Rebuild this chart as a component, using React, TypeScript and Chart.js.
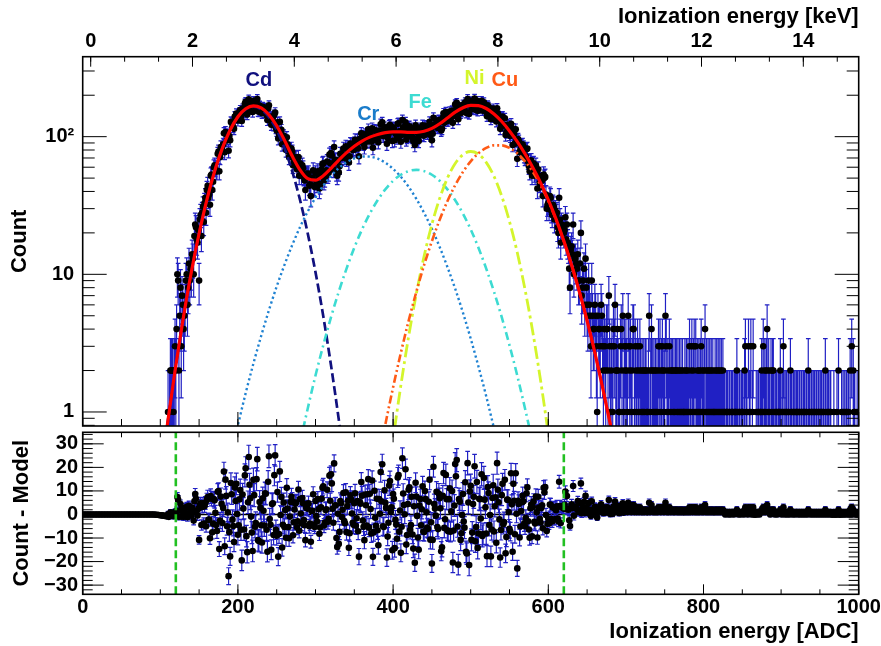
import React, { useEffect, useRef } from 'react';
import { Chart, registerables } from 'chart.js';

Chart.register(...registerables);

const FONT = "'Liberation Sans', Helvetica, Arial, sans-serif";

// ---------------- Data ----------------
// Histogram counts, even ADC bins 110..698
const mainStartAdc = 110;
const mainStepAdc = 2;
const mainCounts = [
  1, 1, 2, 2, 2,
  2, 10, 2, 8, 7,
  4, 6, 10, 8, 9,
  10, 13, 19, 22, 17,
  9, 27, 28, 24, 36,
  41, 36, 32, 53, 47,
  62, 56, 75, 56, 84,
  79, 106, 108, 94, 79,
  94, 126, 118, 140, 147,
  131, 150, 141, 160, 149,
  179, 145, 187, 171, 158,
  182, 161, 180, 153, 168,
  157, 165, 150, 160, 132,
  169, 135, 139, 121, 150,
  111, 97, 128, 112, 95,
  89, 80, 88, 71, 82,
  78, 66, 71, 58, 71,
  64, 52, 59, 48, 54,
  52, 44, 37, 50, 44,
  54, 46, 52, 45, 58,
  64, 50, 57, 53, 74,
  76, 63, 84, 68, 52,
  55, 75, 70, 82, 71,
  69, 84, 72, 88, 80,
  90, 82, 94, 72, 96,
  101, 89, 104, 92, 113,
  108, 92, 83, 112, 98,
  97, 111, 123, 127, 101,
  112, 89, 104, 122, 111,
  117, 94, 104, 124, 101,
  92, 132, 112, 127, 99,
  118, 101, 115, 93, 87,
  115, 98, 112, 104, 121,
  102, 117, 106, 118, 103,
  94, 137, 121, 130, 116,
  131, 111, 137, 126, 151,
  130, 146, 135, 155, 141,
  172, 176, 134, 163, 152,
  171, 158, 149, 188, 146,
  181, 161, 176, 157, 182,
  160, 173, 182, 155, 168,
  152, 169, 150, 134, 156,
  139, 150, 161, 141, 114,
  137, 121, 136, 108, 120,
  104, 124, 87, 105, 113,
  69, 93, 80, 87, 84,
  70, 81, 66, 56, 67,
  63, 54, 62, 42, 52,
  43, 48, 53, 51, 30,
  33, 37, 29, 32, 25,
  27, 22, 36, 17, 22,
  20, 26, 23, 16, 8,
  16, 23, 13, 12, 14,
  9, 20, 8, 11, 13,
  6, 9, 5, 9, 4,
  6, 3, 5, 4, 6,
  3, 4, 2, 4, 7,
  1, 3, 4, 6, 2,
  2, 1, 4, 5, 3,
];
// Count - Model for the even bins
const mainResiduals = [
  0.1, -0.1, 0.7, 0.5, 0.2,
  -0.2, 7.4, -1.0, 4.4, 2.8,
  -1.0, 0.2, 3.3, 0.3, 0.1,
  -0.4, 1.2, 5.6, 6.7, -0.4,
  -10.8, 4.8, 3.2, -3.8, 4.9,
  6.2, -2.3, -10.1, 6.7, -3.9,
  6.0, -4.5, 9.6, -14.7, 7.6,
  -3.6, 18.2, 14.8, -5.0, -26.2,
  -17.8, 8.6, -4.9, 11.5, 13.0,
  -8.6, 6.4, -6.5, 8.5, -6.4,
  19.6, -16.0, 24.4, 6.9, -7.7,
  14.7, -5.2, 15.0, -10.9, 5.3,
  -4.6, 6.9, -4.7, 8.8, -15.8,
  24.7, -4.4, 4.4, -8.7, 25.1,
  -9.0, -17.9, 18.3, 7.4, -4.4,
  -5.3, -9.9, 2.5, -10.1, 5.3,
  5.7, -3.3, 4.6, -5.4, 10.6,
  6.6, -3.8, 4.8, -4.6, 2.9,
  2.5, -5.0, -11.6, 1.6, -4.3,
  5.7, -3.0, 2.2, -5.5, 6.7,
  12.0, -3.4, 2.2, -3.1, 16.5,
  17.1, 2.4, 21.7, 3.9, -13.8,
  -12.5, 5.7, -1.1, 9.1, -3.7,
  -7.5, 5.8, -8.0, 6.3, -3.5,
  4.8, -4.8, 5.7, -17.9, 4.6,
  8.0, -5.2, 8.5, -4.7, 15.0,
  8.8, -8.1, -18.0, 10.1, -4.8,
  -6.7, 6.6, 18.0, 21.3, -5.3,
  5.0, -18.3, -3.5, 14.2, 3.0,
  8.7, -14.3, -4.3, 15.7, -7.3,
  -16.3, 23.9, 4.0, 19.2, -8.7,
  10.5, -6.5, 7.5, -14.5, -20.5,
  7.6, -9.8, 3.8, -4.6, 12.0,
  -7.4, 6.5, -5.6, 5.4, -10.7,
  -20.8, 20.3, 2.5, 9.6, -6.2,
  6.9, -15.6, 7.9, -5.7, 16.8,
  -6.7, 6.5, -7.3, 10.0, -6.8,
  21.4, 23.1, -21.3, 5.4, -8.0,
  8.7, -5.6, -15.9, 21.8, -21.5,
  12.2, -7.7, 7.5, -11.4, 13.8,
  -8.1, 6.5, 17.1, -8.3, 6.3,
  -8.1, 11.7, -4.5, -17.8, 7.0,
  -7.2, 7.3, 21.8, 5.2, -18.3,
  8.2, -4.1, 14.7, -9.6, 6.2,
  -6.1, 17.5, -15.8, 5.8, 17.5,
  -22.9, 4.5, -5.1, 5.2, 5.6,
  -5.0, 9.0, -2.9, -9.9, 4.2,
  3.2, -3.1, 7.6, -9.8, 2.9,
  -3.4, 3.9, 11.3, 11.6, -7.0,
  -1.7, 4.2, -1.9, 3.0, -2.1,
  1.8, -1.7, 13.9, -3.6, 3.0,
  2.5, 9.7, 7.8, 2.0, -4.9,
  4.3, 12.1, 3.0, 2.8, 5.7,
  1.5, 13.2, 1.8, 5.4, 7.9,
  1.4, 4.9, 1.3, 5.6, 1.0,
  3.3, 0.6, 2.9, 2.1, 4.3,
  1.5, 2.7, 0.8, 3.0, 6.1,
  0.2, 2.3, 3.4, 5.5, 1.5,
  1.6, 0.6, 3.7, 4.7, 2.8,
];
// Histogram counts, odd ADC bins 111..699
const oddStartAdc = 111;
const oddStepAdc = 2;
const oddCounts = [
  0, 2, 2, 1, 3,
  4, 9, 5, 3, 6,
  5, 9, 6, 12, 11,
  14, 10, 23, 18, 21,
  25, 19, 31, 33, 28,
  44, 38, 52, 41, 60,
  59, 56, 78, 71, 84,
  88, 77, 104, 103, 101,
  128, 118, 114, 137, 137,
  137, 156, 130, 156, 174,
  151, 167, 176, 164, 151,
  175, 162, 188, 152, 165,
  148, 158, 162, 143, 160,
  140, 122, 137, 144, 116,
  127, 104, 107, 88, 102,
  94, 99, 78, 78, 82,
  62, 70, 70, 59, 52,
  57, 62, 51, 41, 53,
  54, 45, 50, 57, 43,
  48, 56, 42, 54, 63,
  48, 56, 66, 55, 64,
  73, 58, 67, 55, 67,
  61, 75, 74, 71, 85,
  81, 65, 89, 83, 80,
  95, 86, 82, 96, 106,
  91, 84, 100, 106, 93,
  102, 115, 94, 101, 110,
  91, 105, 111, 101, 117,
  110, 98, 120, 109, 93,
  115, 106, 98, 125, 110,
  103, 117, 108, 95, 112,
  119, 103, 99, 111, 121,
  107, 93, 115, 111, 102,
  120, 112, 106, 128, 111,
  105, 122, 119, 116, 132,
  128, 114, 148, 131, 142,
  131, 152, 145, 126, 153,
  168, 149, 163, 148, 161,
  160, 178, 149, 172, 178,
  158, 173, 189, 163, 154,
  174, 164, 155, 178, 164,
  141, 165, 153, 144, 160,
  148, 129, 148, 132, 124,
  140, 120, 103, 122, 113,
  101, 109, 114, 89, 94,
  96, 77, 85, 88, 73,
  72, 82, 61, 67, 52,
  64, 52, 54, 58, 46,
  48, 37, 50, 38, 32,
  30, 36, 27, 31, 29,
  28, 20, 25, 23, 21,
  21, 18, 17, 11, 15,
  14, 10, 13, 11, 9,
  12, 7, 9, 6, 8,
  5, 6, 3, 5, 4,
  5, 1, 4, 3, 5,
  2, 3, 4, 2, 3,
  2, 1, 3, 2, 4,
  1, 3, 2, 1, 2,
];
// Count - Model for the odd bins
const oddResiduals = [
  -1.0, 0.8, 0.6, -0.7, 1.0,
  1.6, 6.2, 1.7, -0.9, 1.4,
  -0.4, 2.8, -1.2, 3.7, 1.4,
  2.9, -2.6, 8.7, 1.7, 2.4,
  4.0, -4.5, 4.7, 3.5, -5.0,
  7.4, -2.2, 7.8, -7.6, 6.5,
  0.7, -7.0, 9.9, -2.6, 4.5,
  2.8, -13.5, 7.9, 0.9, -7.5,
  13.4, -2.2, -11.7, 5.7, 0.2,
  -4.6, 10.4, -19.5, 2.5, 16.6,
  -9.2, 5.2, 12.6, -0.9, -15.5,
  8.2, -3.6, 23.5, -11.3, 2.8,
  -11.9, 1.6, 9.0, -6.5, 13.9,
  -1.9, -15.0, 4.8, 16.7, -6.5,
  9.5, -8.3, -0.2, -14.0, 5.1,
  1.9, 11.3, -5.3, -0.9, 7.5,
  -8.8, 2.1, 5.1, -2.9, -6.9,
  0.4, 7.0, -2.4, -10.9, 2.7,
  4.7, -3.8, 1.5, 8.6, -5.3,
  -0.7, 6.6, -8.2, 3.1, 11.3,
  -4.7, 1.9, 10.5, -1.8, 5.8,
  13.2, -3.5, 3.8, -10.0, 0.3,
  -7.4, 4.8, 2.0, -2.8, 9.4,
  3.6, -14.1, 8.1, 0.4, -4.4,
  9.0, -1.6, -7.1, 5.3, 13.8,
  -2.6, -10.9, 3.9, 8.6, -5.6,
  2.3, 14.4, -7.5, -1.4, 6.7,
  -13.1, 0.3, 5.6, -5.0, 10.3,
  2.8, -9.4, 12.3, 1.1, -15.2,
  6.7, -2.3, -10.3, 16.7, 1.7,
  -5.2, 8.9, 0.1, -12.8, 4.4,
  11.5, -4.5, -8.5, 3.5, 13.5,
  -0.6, -15.0, 6.6, 2.2, -7.2,
  10.0, 0.9, -6.1, 14.8, -3.3,
  -10.8, 4.4, -0.5, -5.3, 8.8,
  2.6, -13.9, 17.6, -2.0, 6.5,
  -7.1, 11.1, 1.3, -20.4, 3.8,
  16.2, -5.1, 6.5, -10.8, -0.2,
  -3.0, 13.7, -16.6, 5.1, 9.8,
  -10.8, 4.4, 20.5, -5.3, -14.2,
  6.7, -1.7, -9.1, 15.5, 3.1,
  -17.7, 9.1, -0.2, -6.4, 12.4,
  3.5, -12.0, 10.5, -2.1, -6.6,
  13.0, -3.2, -16.5, 6.3, 1.0,
  -7.3, 4.3, 13.0, -8.4, 0.3,
  5.8, -9.8, 1.5, 7.9, -3.7,
  -1.5, 11.5, -6.4, 2.6, -9.3,
  5.5, -3.8, 0.9, 7.5, -1.8,
  2.7, -5.9, 9.4, -0.2, -3.9,
  -3.8, 4.1, -3.0, 2.9, 2.8,
  3.5, -2.9, 3.6, 3.2, 2.7,
  4.1, 2.2, 2.4, -2.5, 2.7,
  2.7, -0.5, 3.4, 2.2, 1.1,
  4.8, 0.5, 3.1, 0.6, 3.1,
  0.6, 2.1, -0.6, 1.8, 1.1,
  2.4, -1.3, 2.0, 1.2, 3.4,
  0.6, 1.8, 2.9, 1.0, 2.1,
  1.2, 0.3, 2.4, 1.5, 3.6,
  0.6, 2.7, 1.7, 0.8, 1.8,
];
// Tail counts ADC 700..1000, step 1 (model ~0 here, so Count - Model equals these counts)
const tailStartAdc = 700;
const tailStepAdc = 1;
const tailCounts = [
  3, 2, 1, 5, 3, 2, 3, 1, 2, 4,
  4, 1, 3, 2, 1, 3, 2, 1, 3, 2,
  1, 2, 1, 2, 1, 2, 2, 1, 1, 2,
  5, 1, 2, 4, 2, 1, 2, 1, 2, 1,
  2, 1, 3, 2, 3, 1, 2, 3, 2, 1,
  2, 5, 3, 1, 2, 1, 3, 2, 1, 2,
  2, 1, 2, 1, 2, 2, 1, 2, 1, 2,
  1, 2, 1, 2, 1, 1, 2, 1, 2, 1,
  2, 1, 3, 1, 2, 3, 1, 2, 3, 1,
  3, 1, 2, 1, 2, 1, 2, 3, 1, 2,
  1, 2, 4, 1, 2, 1, 2, 1, 2, 1,
  2, 1, 2, 1, 1, 2, 1, 2, 1, 2,
  1, 2, 1, 2, 1, 2, 1, 1, 0, 1,
  1, 1, 0, 1, 1, 0, 1, 1, 1, 0,
  1, 1, 1, 2, 1, 0, 1, 1, 0, 1,
  1, 1, 0, 2, 3, 1, 1, 0, 3, 1,
  1, 3, 0, 1, 3, 0, 0, 0, 1, 0,
  1, 1, 0, 1, 1, 2, 1, 3, 1, 2,
  1, 2, 4, 1, 2, 1, 0, 2, 1, 2,
  2, 1, 0, 1, 1, 0, 1, 1, 1, 2,
  1, 0, 1, 3, 1, 0, 1, 1, 0, 1,
  1, 0, 2, 1, 1, 0, 1, 1, 0, 1,
  1, 1, 0, 1, 1, 0, 1, 1, 0, 1,
  1, 0, 1, 1, 0, 2, 1, 1, 0, 1,
  1, 0, 1, 1, 0, 1, 1, 0, 1, 1,
  0, 1, 1, 0, 1, 1, 0, 2, 1, 0,
  1, 1, 0, 1, 1, 0, 0, 0, 1, 0,
  0, 0, 1, 0, 2, 0, 0, 0, 1, 0,
  1, 0, 1, 0, 1, 1, 0, 1, 0, 2,
  0, 3, 0, 2, 1, 1, 0, 0, 1, 0, 0,
];
// Count - Model below the spectrum, ADC 0..108 step 2 (empty bins)
const lowStartAdc = 0;
const lowStepAdc = 2;
const lowResiduals = [
  0, 0, 0, 0, 0, 0, 0, 0, 0, 0,
  0, 0, 0, 0, 0, 0, 0, 0, 0, 0,
  0, 0, 0, 0, 0, 0, 0, 0, 0, 0,
  0, 0, 0, 0, 0, 0, 0, 0, 0, 0,
  0, 0, 0, 0, 0, 0, 0, -0.1, -0.1, -0.2,
  -0.3, -0.4, -0.5, -0.6, -0.8,
];

// Fitted model curves, sampled every 10 ADC
const modelStepAdc = 10;
const totalStartAdc = 100;
const totalModel = [
  0.33, 0.88, 2.18, 4.97, 10.4, 19.8, 34.8, 56.0, 82.6, 111.8,
  139.6, 159.4, 167.3, 161.6, 144.3, 120.0, 94.3, 72.3, 57.4, 49.5,
  48.3, 52.0, 58.9, 67.5, 76.5, 85.2, 93.0, 99.2, 103.7, 107.0,
  108.3, 108.3, 107.5, 107.4, 109.4, 114.8, 124.1, 136.7, 150.6, 162.3,
  168.8, 168.1, 160.1, 146.2, 128.8, 110.1, 91.9, 75.0, 59.8, 46.4,
  34.7, 25.2, 17.5, 11.7, 7.5, 4.6, 2.7, 1.5, 0.81, 0.42,
  0.2,
];
const cdStartAdc = 100;
const cdModel = [0.326, 0.88, 2.18, 4.97, 10.36, 19.8, 34.8, 56.0, 82.6, 111.8, 138.8, 158.0, 165.0, 158.0, 138.8, 111.8, 82.6, 56.0, 34.8, 19.8, 10.36, 4.97, 2.18, 0.88, 0.326, 0.11];
const crStartAdc = 190;
const crModel = [0.46, 0.8, 1.37, 2.25, 3.57, 5.49, 8.16, 11.7, 16.3, 22.0, 28.6, 36.1, 44.0, 51.8, 59.1, 65.2, 69.5, 71.8, 71.6, 69.2, 64.6, 58.4, 51.1, 43.2, 35.3, 27.9, 21.4, 15.8, 11.3, 7.86, 5.27, 3.41, 2.14, 1.3, 0.76, 0.43];
const feStartAdc = 270;
const feModel = [0.31, 0.59, 1.06, 1.84, 3.05, 4.88, 7.48, 11.0, 15.6, 21.2, 27.6, 34.5, 41.4, 47.8, 52.9, 56.2, 57.4, 56.2, 52.9, 47.8, 41.4, 34.5, 27.6, 21.2, 15.6, 11.0, 7.48, 4.88, 3.05, 1.84, 1.06, 0.59, 0.31];
const niStartAdc = 390;
const niModel = [0.23, 0.63, 1.56, 3.53, 7.25, 13.6, 23.1, 35.6, 50.0, 63.8, 74.0, 78.0, 74.7, 65.0, 51.5, 37.0, 24.2, 14.4, 7.76, 3.81, 1.7, 0.69, 0.25];
const cuStartAdc = 380;
const cuModel = [0.41, 0.81, 1.51, 2.69, 4.59, 7.48, 11.7, 17.4, 24.9, 34.0, 44.4, 55.4, 66.2, 75.7, 82.8, 86.5, 86.5, 82.8, 75.7, 66.2, 55.4, 44.4, 34.0, 24.9, 17.4, 11.7, 7.48, 4.59, 2.69, 1.51, 0.81, 0.41];

const fitRangeAdc = [120, 620];

// Axes
const adcRange = [0, 1000];
const keVRange = [-0.157, 15.088];
const countRange = [0.791, 381];
const residualRange = [-33.9, 34.9];
const adcTickLabels = [0, 200, 400, 600, 800, 1000];
const keVTickLabels = [0, 2, 4, 6, 8, 10, 12, 14];
const countTickLabels = [1, 10, 100];
const countTickText = ['1', '10', '10\u00B2'];
const countMinorTicks = [0.8, 0.9, 2, 3, 4, 5, 6, 7, 8, 9, 20, 30, 40, 50, 60, 70, 80, 90, 200, 300];
const residualTickLabels = [-30, -20, -10, 0, 10, 20, 30];
const residualTickText = ['\u221230', '\u221220', '\u221210', '0', '10', '20', '30'];

// Peak labels (element, colour, anchor in ADC / count)
const peakLabels = [
  { text: 'Cd', color: '#10107e', x: 227, y: 233 },
  { text: 'Cr', color: '#1a7cca', x: 368, y: 132 },
  { text: 'Fe', color: '#3ddbd2', x: 435, y: 161 },
  { text: 'Ni', color: '#d4f52c', x: 505, y: 240 },
  { text: 'Cu', color: '#ff5a16', x: 544, y: 233 },
];

// ---------------- Helpers ----------------
const pts = (start: number, step: number, vals: number[]) => vals.map((v, i) => ({ x: start + i * step, y: v }));

const adcMinorTicks = Array.from({ length: 21 }, (_, i) => i * 50);
const keVMinorTicks = Array.from({ length: 23 }, (_, i) => (i * 2) / 3);
const residualMinorTicks = Array.from({ length: 34 }, (_, i) => -32 + i * 2);

type Bar = { x: number; lo: number; hi: number; capLo: boolean };
function barPath(bars: Bar[], cap: number) {
  const out: any[] = [];
  for (const b of bars) {
    out.push({ x: b.x, y: b.hi }, { x: b.x, y: b.lo }, { x: b.x, y: null });
    out.push({ x: b.x - cap, y: b.hi }, { x: b.x + cap, y: b.hi }, { x: b.x, y: null });
    if (b.capLo) out.push({ x: b.x - cap, y: b.lo }, { x: b.x + cap, y: b.lo }, { x: b.x, y: null });
  }
  return out;
}

type Edge = 'top' | 'bottom' | 'left' | 'right';
type TickSet = { scale: string; values: number[]; len: number; edges: Edge[] };
function framePlugin(id: string, sets: TickSet[], labels: typeof peakLabels = []) {
  return {
    id,
    afterDraw(chart: any) {
      const { ctx, chartArea: a } = chart;
      ctx.save();
      ctx.strokeStyle = '#000';
      ctx.lineWidth = 1;
      ctx.beginPath();
      for (const t of sets) {
        const s = chart.scales[t.scale];
        for (const v of t.values) {
          const p = s.getPixelForValue(v);
          for (const e of t.edges) {
            if (e === 'top' || e === 'bottom') {
              if (p < a.left - 0.5 || p > a.right + 0.5) continue;
              const y0 = e === 'top' ? a.top : a.bottom;
              const y1 = e === 'top' ? a.top + t.len : a.bottom - t.len;
              ctx.moveTo(p, y0);
              ctx.lineTo(p, y1);
            } else {
              if (p < a.top - 0.5 || p > a.bottom + 0.5) continue;
              const x0 = e === 'left' ? a.left : a.right;
              const x1 = e === 'left' ? a.left + t.len : a.right - t.len;
              ctx.moveTo(x0, p);
              ctx.lineTo(x1, p);
            }
          }
        }
      }
      ctx.stroke();
      ctx.lineWidth = 1.6;
      ctx.strokeRect(a.left, a.top, a.right - a.left, a.bottom - a.top);
      ctx.font = `bold 20px ${FONT}`;
      ctx.textAlign = 'center';
      ctx.textBaseline = 'alphabetic';
      for (const l of labels) {
        ctx.fillStyle = l.color;
        ctx.fillText(l.text, chart.scales.x.getPixelForValue(l.x), chart.scales.y.getPixelForValue(l.y));
      }
      ctx.restore();
    },
  };
}

const tickFont = { family: FONT, size: 20, weight: 'bold' as const };
const titleFont = { family: FONT, size: 22, weight: 'bold' as const };
const noGrid = { display: false, drawTicks: false };
const AXIS_W = 82.7;
const RIGHT_PAD = 22.3;
const BAR_COLOR = '#2020c4';

function fixSize(w?: number, h?: number) {
  return (s: any) => {
    if (w !== undefined) s.width = w;
    if (h !== undefined) s.height = h;
    s.paddingLeft = 0;
    s.paddingRight = 0;
    s.paddingTop = 0;
    s.paddingBottom = 0;
  };
}

function curve(start: number, vals: number[], color: string, dash: number[], width: number, order: number) {
  return {
    data: pts(start, modelStepAdc, vals),
    borderColor: color,
    borderDash: dash,
    borderWidth: width,
    pointRadius: 0,
    cubicInterpolationMode: 'monotone',
    xAxisID: 'x',
    yAxisID: 'y',
    order,
  };
}

function topConfig(): any {
  const bins = [
    ...pts(mainStartAdc, mainStepAdc, mainCounts),
    ...pts(oddStartAdc, oddStepAdc, oddCounts),
    ...pts(tailStartAdc, tailStepAdc, tailCounts),
  ].filter((p) => p.y > 0);
  const bars: Bar[] = bins.map((p) => {
    const e = Math.sqrt(p.y);
    const lo = p.y - e;
    return { x: p.x, hi: p.y + e, lo: lo >= countRange[0] ? lo : countRange[0] * 0.5, capLo: lo >= countRange[0] };
  });
  return {
    type: 'line',
    data: {
      datasets: [
        curve(totalStartAdc, totalModel, '#ff0000', [], 3.2, 0),
        curve(cuStartAdc, cuModel, '#ff5a16', [8, 3, 2, 3, 2, 3], 2.6, 1),
        curve(niStartAdc, niModel, '#d4f52c', [13, 4, 3, 4], 2.8, 1),
        curve(feStartAdc, feModel, '#3ddbd2', [8, 4, 2, 4], 2.6, 1),
        curve(crStartAdc, crModel, '#1f82d2', [2.2, 2.8], 2.4, 1),
        curve(cdStartAdc, cdModel, '#10107e', [9, 4], 2.7, 1),
        {
          data: bins,
          showLine: false,
          pointRadius: 3.3,
          pointBackgroundColor: '#000',
          pointBorderColor: '#000',
          pointBorderWidth: 0,
          xAxisID: 'x',
          yAxisID: 'y',
          order: 2,
        },
        {
          data: barPath(bars, 3),
          borderColor: BAR_COLOR,
          borderWidth: 1.2,
          pointRadius: 0,
          spanGaps: false,
          xAxisID: 'x',
          yAxisID: 'y',
          order: 3,
        },
      ],
    },
    options: {
      animation: false,
      responsive: true,
      maintainAspectRatio: false,
      events: [],
      layout: { autoPadding: false, padding: { left: 0, right: RIGHT_PAD, top: 0, bottom: 646 - 426 } },
      plugins: { legend: { display: false }, tooltip: { enabled: false } },
      scales: {
        x: { type: 'linear', min: adcRange[0], max: adcRange[1], display: false },
        xTop: {
          type: 'linear',
          position: 'top',
          min: keVRange[0],
          max: keVRange[1],
          grid: noGrid,
          border: { display: false },
          ticks: { font: tickFont, color: '#000', padding: 3.5, autoSkip: false, maxRotation: 0, callback: (v: number) => String(v) },
          afterBuildTicks: (s: any) => { s.ticks = keVTickLabels.map((value) => ({ value })); },
          afterFit: fixSize(undefined, 56.7),
          title: { display: true, text: 'Ionization energy [keV]', align: 'end', color: '#000', font: titleFont, padding: { top: 4, bottom: 0 } },
        },
        y: {
          type: 'logarithmic',
          min: countRange[0],
          max: countRange[1],
          grid: noGrid,
          border: { display: false },
          ticks: {
            font: tickFont,
            color: '#000',
            padding: 8.5,
            autoSkip: false,
            callback: (v: number) => {
              const i = countTickLabels.indexOf(v);
              return i >= 0 ? countTickText[i] : '';
            },
          },
          afterBuildTicks: (s: any) => { s.ticks = countTickLabels.map((value) => ({ value })); },
          afterFit: fixSize(AXIS_W, undefined),
          title: { display: true, text: 'Count', color: '#000', font: titleFont, padding: { top: 7, bottom: 0 } },
        },
      },
    },
    plugins: [
      framePlugin('topFrame', [
        { scale: 'xTop', values: keVTickLabels, len: 10, edges: ['top'] },
        { scale: 'xTop', values: keVMinorTicks, len: 5, edges: ['top'] },
        { scale: 'x', values: adcTickLabels, len: 14, edges: ['bottom'] },
        { scale: 'x', values: adcMinorTicks, len: 7, edges: ['bottom'] },
        { scale: 'y', values: countTickLabels, len: 24, edges: ['left', 'right'] },
        { scale: 'y', values: countMinorTicks, len: 12, edges: ['left', 'right'] },
      ], peakLabels),
    ],
  };
}

function bottomConfig(): any {
  const res = [
    ...lowResiduals.map((r, i) => ({ x: lowStartAdc + i * lowStepAdc, y: r, n: 0 })),
    ...mainResiduals.map((r, i) => ({ x: mainStartAdc + i * mainStepAdc, y: r, n: mainCounts[i] ?? 0 })),
    ...oddResiduals.map((r, i) => ({ x: oddStartAdc + i * oddStepAdc, y: r, n: oddCounts[i] ?? 0 })),
    ...tailCounts.map((c, i) => ({ x: tailStartAdc + i * tailStepAdc, y: c, n: c })),
  ];
  const bars: Bar[] = res.map((p) => {
    const e = 0.9 + 0.3 * Math.sqrt(p.n);
    return { x: p.x, hi: p.y + e, lo: p.y - e, capLo: true };
  });
  const fitLines = fitRangeAdc.map((x) => ({
    data: [{ x, y: residualRange[0] }, { x, y: residualRange[1] }],
    borderColor: '#22c022',
    borderDash: [8, 4],
    borderWidth: 2.6,
    pointRadius: 0,
    order: 0,
  }));
  return {
    type: 'line',
    data: {
      datasets: [
        ...fitLines,
        {
          data: res.map((p) => ({ x: p.x, y: p.y })),
          showLine: false,
          pointRadius: 3.3,
          pointBackgroundColor: '#000',
          pointBorderColor: '#000',
          pointBorderWidth: 0,
          order: 1,
        },
        {
          data: barPath(bars, 3),
          borderColor: BAR_COLOR,
          borderWidth: 1.2,
          pointRadius: 0,
          spanGaps: false,
          order: 2,
        },
        {
          data: [{ x: adcRange[0], y: 0 }, { x: adcRange[1], y: 0 }],
          borderColor: '#000',
          borderWidth: 1.5,
          pointRadius: 0,
          order: 3,
        },
      ],
    },
    options: {
      animation: false,
      responsive: true,
      maintainAspectRatio: false,
      events: [],
      layout: { autoPadding: false, padding: { left: 0, right: RIGHT_PAD, top: 432.3, bottom: 0 } },
      plugins: { legend: { display: false }, tooltip: { enabled: false } },
      scales: {
        x: {
          type: 'linear',
          position: 'bottom',
          min: adcRange[0],
          max: adcRange[1],
          grid: noGrid,
          border: { display: false },
          ticks: { font: tickFont, color: '#000', padding: 1, autoSkip: false, maxRotation: 0, callback: (v: number) => String(v) },
          afterBuildTicks: (s: any) => { s.ticks = adcTickLabels.map((value) => ({ value })); },
          afterFit: fixSize(undefined, 646 - 594.3),
          title: { display: true, text: 'Ionization energy [ADC]', align: 'end', color: '#000', font: titleFont, padding: { top: 0, bottom: 0.5 } },
        },
        y: {
          type: 'linear',
          min: residualRange[0],
          max: residualRange[1],
          grid: noGrid,
          border: { display: false },
          ticks: {
            font: tickFont,
            color: '#000',
            padding: 4.7,
            autoSkip: false,
            callback: (v: number) => {
              const i = residualTickLabels.indexOf(v);
              return i >= 0 ? residualTickText[i] : '';
            },
          },
          afterBuildTicks: (s: any) => { s.ticks = residualTickLabels.map((value) => ({ value })); },
          afterFit: fixSize(AXIS_W, undefined),
          title: { display: true, text: 'Count - Model', color: '#000', font: titleFont, padding: { top: 8.5, bottom: 0 } },
        },
      },
    },
    plugins: [
      framePlugin('bottomFrame', [
        { scale: 'x', values: adcTickLabels, len: 10, edges: ['top', 'bottom'] },
        { scale: 'x', values: adcMinorTicks, len: 5, edges: ['top', 'bottom'] },
        { scale: 'y', values: residualTickLabels, len: 21, edges: ['left', 'right'] },
        { scale: 'y', values: residualMinorTicks, len: 10, edges: ['left', 'right'] },
      ]),
    ],
  };
}

export default function App() {
  const topRef = useRef<HTMLCanvasElement>(null);
  const botRef = useRef<HTMLCanvasElement>(null);
  useEffect(() => {
    document.body.style.margin = '0';
    const bot = new Chart(botRef.current as HTMLCanvasElement, bottomConfig());
    const top = new Chart(topRef.current as HTMLCanvasElement, topConfig());
    return () => {
      top.destroy();
      bot.destroy();
    };
  }, []);
  const layer: React.CSSProperties = { position: 'absolute', left: 0, top: 0, width: 881, height: 646 };
  return (
    <div style={{ position: 'absolute', left: 0, top: 0, width: 881, height: 646, background: '#fff' }}>
      <div style={layer}>
        <canvas ref={botRef} />
      </div>
      <div style={layer}>
        <canvas ref={topRef} />
      </div>
    </div>
  );
}
